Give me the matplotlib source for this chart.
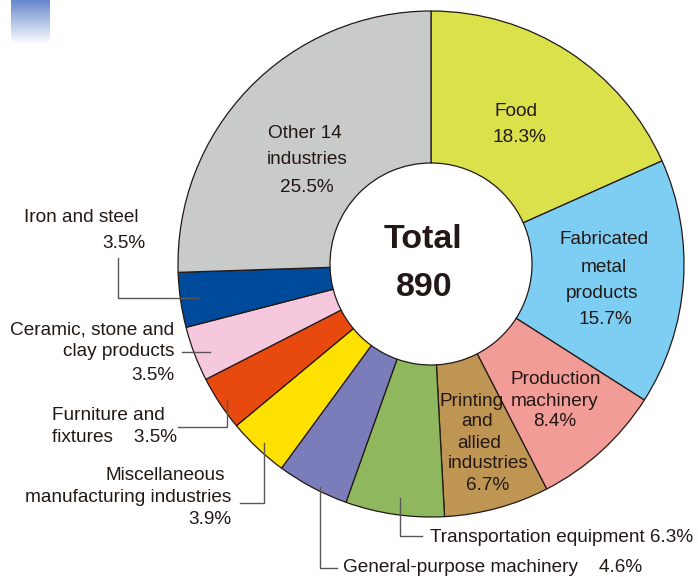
import numpy as np
import matplotlib.pyplot as plt

plt.rcParams['font.family'] = ['Liberation Sans', 'DejaVu Sans']

# shares of establishments, clockwise from the top
industries = ['Food', 'Fabricated metal products', 'Production machinery',
              'Printing and allied industries', 'Transportation equipment',
              'General-purpose machinery', 'Miscellaneous manufacturing industries',
              'Furniture and fixtures', 'Ceramic, stone and clay products',
              'Iron and steel', 'Other 14 industries']
shares = [18.3, 15.7, 8.4, 6.7, 6.3, 4.6, 3.9, 3.5, 3.5, 3.5, 25.5]
colors = ['#dae14a', '#7ecef4', '#f19c97', '#bf9553', '#8fb75d', '#7a7dba',
          '#ffe100', '#e8490f', '#f5c8de', '#004a9b', '#c9caca']
total = 890

txt = '#231815'
fs = 13.7

fig = plt.figure(figsize=(6.98, 5.77), dpi=100)
ax = fig.add_axes([0, 0, 1, 1])

# y axis is flipped below, so counterclock=True draws clockwise on screen
ax.pie(shares, colors=colors, radius=253, center=(431, 264),
       startangle=-90, counterclock=True,
       wedgeprops=dict(width=152, edgecolor='#231815', linewidth=0.9))

ax.set_xlim(0, 698)
ax.set_ylim(577, 0)
ax.set_aspect('equal')
ax.axis('off')

# little gradient tab in the corner
grad = np.linspace(0, 1, 60)[:, None, None]
top = np.array([0.40, 0.53, 0.80])
img = top * (1 - grad) + np.array([1.0, 1.0, 1.0]) * grad
ax.imshow(img, extent=(11, 50, 44, 0), aspect='auto', zorder=0)

# centre
ax.text(423, 240, 'Total', ha='center', va='center', fontsize=24.5,
        fontweight='bold', color=txt)
ax.text(424, 287, str(total), ha='center', va='center', fontsize=24.5,
        fontweight='bold', color=txt)

# labels inside the ring (one entry per line)
inside = [
    ('Food', 516, 111), ('18.3%', 519, 138),
    ('Fabricated', 604, 240), ('metal', 604, 267), ('products', 602, 293),
    ('15.7%', 605, 319),
    ('Production', 556, 380), ('machinery', 554, 401), ('8.4%', 555, 422),
    ('Printing', 472, 401), ('and', 477, 422), ('allied', 479, 443),
    ('industries', 488, 464), ('6.7%', 488, 486),
    ('Other 14', 305, 133), ('industries', 307, 160), ('25.5%', 307, 187),
]
for s, x, y in inside:
    ax.text(x, y, s, ha='center', va='center', fontsize=fs, color=txt)

# outside labels
outside = [
    ('Iron and steel', 24, 217, 'left'), ('3.5%', 145, 244, 'right'),
    ('Ceramic, stone and', 174, 330, 'right'), ('clay products', 174, 352, 'right'),
    ('3.5%', 174, 375, 'right'),
    ('Furniture and', 52, 415, 'left'), ('fixtures    3.5%', 52, 437, 'left'),
    ('Miscellaneous', 225, 476, 'right'),
    ('manufacturing industries', 231, 497, 'right'), ('3.9%', 231, 519, 'right'),
    ('Transportation equipment 6.3%', 430, 537, 'left'),
    ('General-purpose machinery    4.6%', 343, 568, 'left'),
]
for s, x, y, ha in outside:
    ax.text(x, y, s, ha=ha, va='center', fontsize=fs, color=txt)

# leader lines
leaders = [
    ([198, 118, 118], [298, 298, 258]),
    ([210, 182], [352, 352]),
    ([227, 227, 178], [400, 427, 427]),
    ([264, 264, 240], [443, 503, 503]),
    ([320, 320, 337], [487, 568, 568]),
    ([400, 400, 422], [498, 536, 536]),
]
for xs, ys in leaders:
    ax.plot(xs, ys, color='#595757', lw=1.0, zorder=3)

plt.savefig('out.png', dpi=100)
